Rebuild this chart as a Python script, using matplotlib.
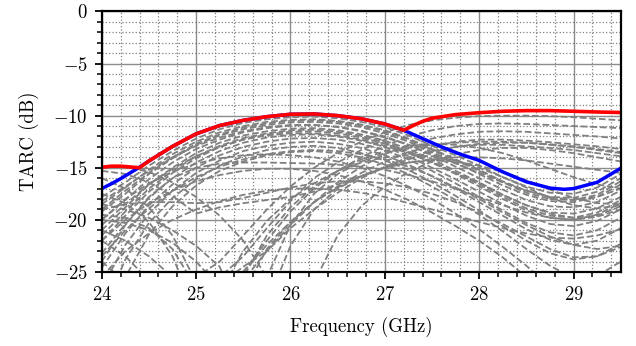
import numpy as np
import matplotlib
matplotlib.use("Agg")
import matplotlib.pyplot as plt
from matplotlib.ticker import MultipleLocator

plt.rcParams['font.family'] = 'serif'
plt.rcParams['font.serif'] = ['cmr10']
plt.rcParams['mathtext.fontset'] = 'cm'
plt.rcParams['axes.formatter.use_mathtext'] = True

# frequency samples (GHz)
freq = np.arange(24.0, 29.51, 0.25)

# worst-case envelope (red) and selected configuration (blue)
red_freq = [24.0, 24.1, 24.2, 24.4, 24.5, 24.75, 25.0, 25.25, 25.5, 25.75, 26.0, 26.25,
            26.5, 26.75, 27.0, 27.2, 27.3, 27.4, 27.5, 27.75, 28.0, 28.25, 28.5, 28.75,
            29.0, 29.25, 29.5]
red_tarc = [-14.95, -14.85, -14.85, -15.0, -14.35, -12.95, -11.75, -10.95, -10.45, -10.1, -9.87, -9.84,
            -10.0, -10.3, -10.8, -11.4, -10.95, -10.55, -10.25, -9.9, -9.72, -9.58, -9.52, -9.52,
            -9.58, -9.65, -9.7]

blue_freq = [24.0, 24.1, 24.2, 24.3, 24.4, 24.5, 24.75, 25.0, 25.25, 25.5, 25.75, 26.0, 26.25,
             26.5, 26.75, 27.0, 27.2, 27.4, 27.6, 27.8, 28.0, 28.25, 28.5, 28.75, 28.9,
             29.0, 29.25, 29.5]
blue_tarc = [-17.0, -16.55, -16.05, -15.5, -14.95, -14.35, -12.95, -11.75, -10.95, -10.45, -10.1, -9.87, -9.84,
             -10.0, -10.3, -10.8, -11.4, -12.2, -13.0, -13.7, -14.3, -15.4, -16.35, -16.95, -17.07,
             -17.0, -16.4, -15.05]

# all other port excitations (gray dashed), sampled on freq
gray_tarc = [
    [-17.8, -16.4, -14.8, -13.4, -12.2, -11.3, -10.7, -10.35, -10.15, -10.1, -10.25, -10.6, -11.1, -11.9, -12.9, -13.8, -14.8, -15.9, -16.8, -17.4, -17.5, -16.9, -15.6],
    [-18.5, -16.9, -15.2, -13.7, -12.5, -11.6, -11.0, -10.6, -10.4, -10.35, -10.5, -10.85, -11.4, -12.2, -13.2, -14.2, -15.2, -16.3, -17.2, -17.8, -17.9, -17.3, -16.0],
    [-19.2, -17.5, -15.6, -14.1, -12.8, -11.9, -11.3, -10.9, -10.65, -10.6, -10.75, -11.1, -11.7, -12.5, -13.5, -14.5, -15.6, -16.7, -17.6, -18.2, -18.3, -17.8, -16.6],
    [-20.0, -18.1, -16.1, -14.5, -13.2, -12.3, -11.6, -11.2, -10.95, -10.9, -11.05, -11.45, -12.0, -12.8, -13.8, -14.9, -16.0, -17.1, -18.1, -18.7, -18.8, -18.3, -17.2],
    [-21.0, -18.8, -16.6, -15.0, -13.6, -12.6, -11.9, -11.5, -11.25, -11.2, -11.4, -11.8, -12.4, -13.2, -14.2, -15.3, -16.4, -17.6, -18.6, -19.3, -19.4, -18.9, -17.8],
    [-22.0, -19.6, -17.3, -15.5, -14.1, -13.0, -12.3, -11.8, -11.55, -11.5, -11.7, -12.1, -12.7, -13.5, -14.5, -15.6, -16.8, -18.0, -19.1, -19.8, -20.0, -19.5, -18.4],
    [-23.2, -20.4, -17.9, -16.0, -14.5, -13.4, -12.6, -12.1, -11.85, -11.8, -12.0, -12.4, -13.0, -13.9, -15.0, -16.1, -17.3, -18.5, -19.6, -20.4, -20.6, -20.1, -19.0],
    [-24.6, -21.3, -18.6, -16.6, -15.0, -13.8, -13.0, -12.5, -12.2, -12.15, -12.3, -12.7, -13.3, -14.2, -15.3, -16.5, -17.8, -19.1, -20.3, -21.2, -21.5, -21.0, -19.8],
    [-26.5, -22.4, -19.4, -17.2, -15.5, -14.3, -13.4, -12.9, -12.6, -12.5, -12.7, -13.1, -13.8, -14.7, -15.8, -17.0, -18.3, -19.6, -20.9, -21.9, -22.4, -22.0, -20.8],
    [-29.0, -23.8, -20.3, -17.9, -16.1, -14.8, -13.9, -13.3, -13.0, -12.9, -13.1, -13.6, -14.3, -15.2, -16.4, -17.7, -19.1, -20.6, -22.0, -23.2, -23.8, -23.5, -22.3],
    [-32.0, -25.5, -21.4, -18.7, -16.7, -15.3, -14.4, -13.8, -13.5, -13.4, -13.6, -14.0, -14.7, -15.6, -16.8, -18.1, -19.5, -21.1, -22.8, -24.4, -25.6, -25.4, -24.0],
    [-18.2, -16.8, -15.3, -14.0, -12.9, -12.1, -11.5, -11.1, -10.9, -10.9, -11.1, -11.5, -12.1, -12.8, -13.7, -14.6, -15.5, -16.4, -17.2, -17.8, -18.1, -17.8, -17.0],
    [-20.5, -18.5, -16.6, -15.1, -13.9, -13.0, -12.3, -11.9, -11.7, -11.7, -11.9, -12.3, -12.9, -13.6, -14.5, -15.5, -16.5, -17.6, -18.6, -19.4, -19.8, -19.6, -18.7],
    [-23.5, -21.0, -18.9, -17.2, -15.9, -14.9, -14.2, -13.7, -13.4, -13.3, -13.4, -13.7, -14.2, -14.9, -15.8, -16.9, -18.0, -19.3, -20.5, -21.6, -22.4, -22.8, -22.5],
    [-19.0, -17.2, -15.5, -14.0, -12.7, -11.8, -11.15, -10.75, -10.5, -10.45, -10.6, -10.95, -11.5, -12.3, -13.3, -14.3, -15.3, -16.4, -17.4, -18.0, -18.1, -17.6, -16.3],
    [-21.5, -19.2, -17.0, -15.3, -13.9, -12.9, -12.15, -11.7, -11.4, -11.35, -11.55, -11.95, -12.55, -13.4, -14.4, -15.5, -16.6, -17.8, -18.9, -19.6, -19.8, -19.3, -18.1],
    [-34.0, -32.0, -30.0, -28.0, -27.0, -25.5, -23.5, -20.8, -18.2, -16.0, -14.5, -13.3, -12.3, -11.1, -10.25, -9.9, -9.72, -9.58, -9.52, -9.52, -9.58, -9.65, -9.7],
    [-30.0, -33.0, -29.0, -27.0, -25.5, -24.0, -21.5, -19.0, -16.8, -15.0, -13.6, -12.5, -11.6, -10.9, -10.45, -10.2, -10.05, -10.0, -10.0, -10.05, -10.15, -10.3, -10.45],
    [-26.0, -28.0, -32.0, -30.0, -27.0, -25.8, -25.0, -22.0, -19.2, -17.0, -15.3, -14.0, -12.9, -12.0, -11.4, -11.0, -10.8, -10.75, -10.8, -10.9, -11.0, -11.1, -11.2],
    [-24.0, -26.0, -29.0, -33.0, -29.0, -26.2, -24.5, -23.0, -20.5, -18.3, -16.4, -14.9, -13.7, -12.8, -12.2, -11.8, -11.55, -11.5, -11.55, -11.7, -11.85, -12.0, -12.2],
    [-22.0, -23.5, -25.8, -29.0, -34.0, -28.0, -25.0, -22.4, -20.2, -18.3, -16.8, -15.5, -14.4, -13.5, -12.9, -12.5, -12.3, -12.3, -12.4, -12.55, -12.75, -12.95, -13.2],
    [-21.0, -22.0, -23.5, -25.5, -28.0, -29.0, -25.8, -23.0, -20.8, -19.0, -17.4, -16.0, -14.9, -14.0, -13.4, -13.0, -12.8, -12.8, -12.95, -13.1, -13.3, -13.6, -13.9],
    [-15.3, -15.6, -16.4, -17.7, -19.4, -18.8, -18.4, -18.1, -17.8, -17.3, -16.6, -15.8, -15.0, -14.2, -13.5, -13.0, -12.7, -12.6, -12.6, -12.75, -12.95, -13.2, -13.5],
    [-24.0, -20.5, -17.8, -16.0, -15.0, -14.6, -14.5, -14.5, -14.55, -14.6, -14.7, -14.9, -15.2, -15.7, -16.3, -17.0, -17.8, -18.6, -19.3, -19.8, -20.0, -19.7, -19.0],
    [-20.0, -18.0, -16.5, -15.4, -14.6, -14.1, -13.8, -13.7, -13.8, -14.0, -14.4, -15.0, -15.8, -16.8, -18.0, -19.4, -20.9, -22.6, -24.4, -26.5, -29.0, -27.0, -25.0],
    [-22.0, -20.0, -18.4, -17.2, -16.3, -15.7, -15.3, -15.1, -15.1, -15.3, -15.7, -16.3, -17.1, -18.1, -19.3, -20.6, -22.0, -23.6, -25.5, -28.0, -31.0, -28.0, -26.0],
    [-19.0, -18.5, -18.3, -18.3, -18.4, -18.3, -17.9, -17.4, -16.9, -16.5, -16.3, -16.3, -16.5, -16.9, -17.5, -18.3, -19.3, -20.4, -21.6, -22.8, -23.6, -23.5, -22.6],
    [-25.5, -23.0, -21.3, -20.0, -19.0, -18.2, -17.6, -17.2, -17.0, -17.0, -17.1, -17.4, -17.8, -18.4, -19.0, -19.6, -20.2, -20.8, -21.3, -21.7, -21.8, -21.5, -20.9],
    [-16.0, -17.0, -18.8, -21.5, -26.0, -30.0, -25.5, -21.5, -18.8, -16.8, -15.3, -14.2, -13.4, -12.9, -12.7, -12.8, -13.1, -13.6, -14.3, -15.1, -15.9, -16.6, -17.0],
    [-17.5, -18.4, -20.2, -23.5, -29.0, -27.0, -23.0, -20.1, -18.0, -16.5, -15.3, -14.5, -14.0, -13.8, -13.9, -14.3, -15.0, -15.9, -16.9, -17.9, -18.6, -18.9, -18.6],
    [-19.5, -19.8, -20.8, -22.8, -26.5, -33.0, -27.0, -22.8, -20.2, -18.3, -16.9, -15.8, -15.0, -14.5, -14.3, -14.4, -14.8, -15.4, -16.2, -17.1, -17.9, -18.4, -18.5],
    [-18.5, -19.0, -19.8, -21.0, -22.5, -24.5, -30.0, -25.5, -20.5, -17.5, -15.6, -14.4, -13.6, -13.1, -12.8, -12.6, -12.5, -12.5, -12.6, -12.8, -13.0, -13.3, -13.6],
    [-20.0, -20.3, -21.0, -22.2, -24.0, -26.5, -31.0, -28.0, -22.5, -19.0, -17.0, -15.8, -15.0, -14.5, -14.2, -14.0, -14.0, -14.1, -14.3, -14.6, -14.9, -15.2, -15.5],
    [-14.95, -14.9, -15.4, -16.4, -17.8, -19.6, -22.0, -25.5, -30.0, -26.0, -21.5, -18.7, -16.8, -15.4, -14.4, -13.7, -13.3, -13.1, -13.1, -13.3, -13.6, -14.0, -14.4],
]

fig, ax = plt.subplots(figsize=(6.36, 3.46), dpi=100)
fig.subplots_adjust(left=0.160, right=0.976, top=0.967, bottom=0.214)

for curve in gray_tarc:
    ax.plot(freq, curve, color='gray', linestyle='--', linewidth=1.3)

ax.plot(blue_freq, blue_tarc, color='blue', linewidth=2.5)
ax.plot(red_freq, red_tarc, color='red', linewidth=2.6)

ax.set_xlim(24, 29.5)
ax.set_ylim(-25, 0)
ax.xaxis.set_major_locator(MultipleLocator(1))
ax.xaxis.set_minor_locator(MultipleLocator(0.2))
ax.yaxis.set_major_locator(MultipleLocator(5))
ax.yaxis.set_minor_locator(MultipleLocator(1))

ax.grid(which='major', color='#8c8c8c', linestyle='-', linewidth=1.0)
ax.grid(which='minor', color='#808080', linestyle=':', linewidth=0.9)
ax.set_axisbelow(True)

ax.tick_params(which='major', direction='out', length=5, width=1.3, labelsize=13.5, pad=5)
ax.tick_params(which='minor', direction='out', length=3.5, width=1.1)
for s in ax.spines.values():
    s.set_linewidth(1.6)

ax.set_xlabel('Frequency (GHz)', fontsize=13.5, labelpad=9)
ax.set_ylabel('TARC (dB)', fontsize=13.5, labelpad=10)

plt.savefig('out.png', dpi=100)
